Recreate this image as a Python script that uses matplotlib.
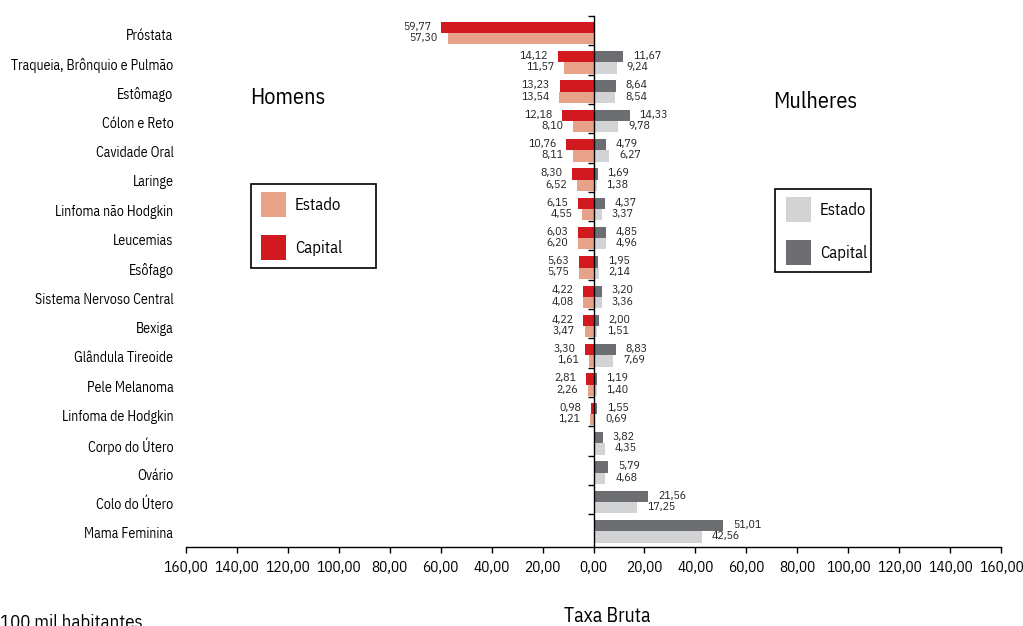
import numpy as np
import matplotlib
matplotlib.use("Agg")
import matplotlib.pyplot as plt
from matplotlib.patches import Rectangle
from matplotlib.ticker import FuncFormatter, FixedLocator

plt.rcParams['font.family'] = ['IBM Plex Sans Condensed', 'PT Sans Narrow', 'Liberation Sans', 'DejaVu Sans']

categories = ["Próstata", "Traqueia, Brônquio e Pulmão", "Estômago", "Cólon e Reto",
              "Cavidade Oral", "Laringe", "Linfoma não Hodgkin", "Leucemias", "Esôfago",
              "Sistema Nervoso Central", "Bexiga", "Glândula Tireoide", "Pele Melanoma",
              "Linfoma de Hodgkin", "Corpo do Útero", "Ovário", "Colo do Útero", "Mama Feminina"]

nan = np.nan
homens_capital = [59.77, 14.12, 13.23, 12.18, 10.76, 8.30, 6.15, 6.03, 5.63, 4.22, 4.22,
                  3.30, 2.81, 0.98, nan, nan, nan, nan]
homens_estado = [57.30, 11.57, 13.54, 8.10, 8.11, 6.52, 4.55, 6.20, 5.75, 4.08, 3.47,
                 1.61, 2.26, 1.21, nan, nan, nan, nan]
mulheres_capital = [nan, 11.67, 8.64, 14.33, 4.79, 1.69, 4.37, 4.85, 1.95, 3.20, 2.00,
                    8.83, 1.19, 1.55, 3.82, 5.79, 21.56, 51.01]
mulheres_estado = [nan, 9.24, 8.54, 9.78, 6.27, 1.38, 3.37, 4.96, 2.14, 3.36, 1.51,
                   7.69, 1.40, 0.69, 4.35, 4.68, 17.25, 42.56]

red_capital = "#D2191F"
red_estado = "#E9A28A"
gray_capital = "#6D6E71"
gray_estado = "#D2D3D5"
W, H = 1023, 626


def fmt(v):
    return f"{v:.2f}".replace(".", ",")


fig = plt.figure(figsize=(10.23, 6.26), dpi=100)
ax = fig.add_axes([186 / W, 1 - 547 / H, 815 / W, 531 / H])

y = np.arange(len(categories))
h = 0.385
y_cap = y - 0.11
y_est = y + 0.275

hc = -np.array(homens_capital)
he = -np.array(homens_estado)
mc = np.array(mulheres_capital)
me = np.array(mulheres_estado)

b_hc = ax.barh(y_cap, hc, height=h, color=red_capital, label="Capital")
b_he = ax.barh(y_est, he, height=h, color=red_estado, label="Estado")
b_mc = ax.barh(y_cap, mc, height=h, color=gray_capital, label="Capital")
b_me = ax.barh(y_est, me, height=h, color=gray_estado, label="Estado")

# value labels
for yy, vals in [(y_cap, homens_capital), (y_est, homens_estado)]:
    for yi, v in zip(yy, vals):
        if np.isnan(v):
            continue
        ax.annotate(fmt(v), (-v, yi), xytext=(-7, 0.5), textcoords="offset points",
                    ha="right", va="center", fontsize=8.5, color="#231F20")
for yy, vals in [(y_cap, mulheres_capital), (y_est, mulheres_estado)]:
    for yi, v in zip(yy, vals):
        if np.isnan(v):
            continue
        ax.annotate(fmt(v), (v, yi), xytext=(7, 0.5), textcoords="offset points",
                    ha="left", va="center", fontsize=8.5, color="#231F20")

ax.set_xlim(-160, 160)
ax.set_ylim(17.62, -0.5)
ax.set_xticks(np.arange(-160, 161, 20))
ax.xaxis.set_major_formatter(FuncFormatter(lambda v, p: fmt(abs(v))))
ax.tick_params(axis="x", length=4, width=1, labelsize=11, pad=6, color="black")

# category labels on the left, tick marks on the zero line
ax.set_yticks(y + 0.13)
ax.set_yticklabels(categories, fontsize=11)
ax.yaxis.set_minor_locator(FixedLocator(np.arange(len(categories)) - 0.5))
ax.tick_params(axis="y", which="major", left=False, right=False, labelleft=True, pad=5.5)
ax.tick_params(axis="y", which="minor", left=False, right=True, direction="in",
               length=4, width=1)

ax.spines["left"].set_visible(False)
ax.spines["top"].set_visible(False)
ax.spines["right"].set_position(("data", 0))
ax.spines["right"].set_linewidth(1)
ax.spines["bottom"].set_linewidth(1)

fig.text(250 / W, 1 - 98 / H, "Homens", fontsize=16, ha="left", va="center")
fig.text(773 / W, 1 - 102 / H, "Mulheres", fontsize=16, ha="left", va="center")
fig.text(607 / W, 1 - 616 / H, "Taxa Bruta", fontsize=14.2, ha="center", va="center")
fig.text(0.0, 1 - 623 / H, "100 mil habitantes", fontsize=13.5, ha="left", va="center")

# legends: boxes drawn separately, they are wider than their content
for (bx, by, bw, bh), hnd, px, py in [((251, 184, 125, 84), [b_he, b_hc], 261, 192),
                                      ((775, 189, 96, 83), [b_me, b_mc], 786, 197)]:
    fig.add_artist(Rectangle((bx / W, 1 - (by + bh) / H), bw / W, bh / H,
                             transform=fig.transFigure, fill=False, edgecolor="black",
                             linewidth=1.2))
    fig.legend(hnd, ["Estado", "Capital"], loc="upper left",
               bbox_to_anchor=(px / W, 1 - py / H), frameon=False, fontsize=12,
               handlelength=1.5, handleheight=1.93, labelspacing=1.08,
               borderpad=0, handletextpad=0.54, borderaxespad=0)

fig.savefig("out.png", dpi=100)
